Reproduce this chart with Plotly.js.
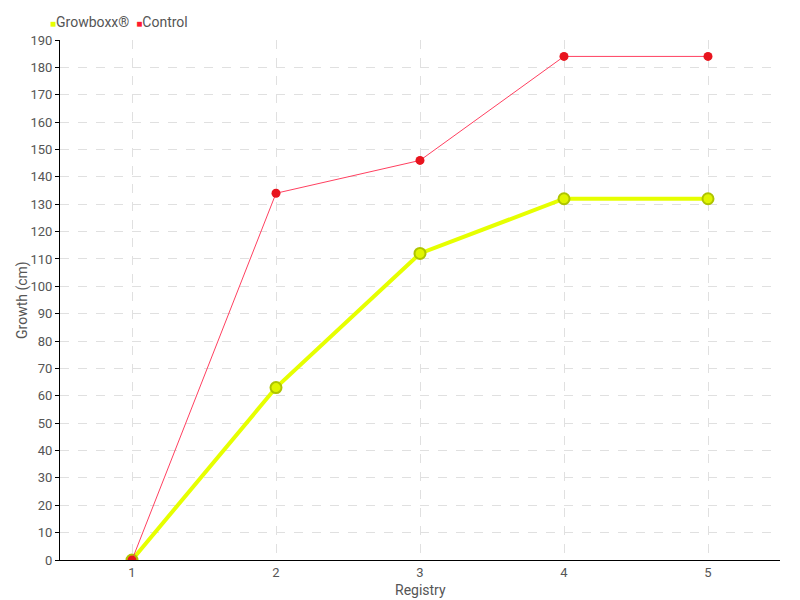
<!DOCTYPE html>
<html>
<head>
<meta charset="utf-8">
<script src="https://cdn.plot.ly/plotly-3.0.1.min.js"></script>
<style>html,body{margin:0;padding:0;background:#fff;}#chart{width:800px;height:600px;}</style>
</head>
<body>
<div id="chart"></div>
<script>
const registry = [1, 2, 3, 4, 5];
const growboxx = [0, 63, 112, 132, 132];
const control = [0, 134, 146, 184, 184];
const seriesNames = ['Growboxx®', 'Control'];
const tickVals = [0,10,20,30,40,50,60,70,80,90,100,110,120,130,140,150,160,170,180,190];

const FONT = 'Roboto, "Liberation Sans Narrow", sans-serif';
const TXT = '#555555';
const COL_G = '#e6ff00';
const COL_C = '#ff1a2e';

const traces = [
  {
    x: registry, y: growboxx, type: 'scatter', mode: 'lines+markers', name: seriesNames[0],
    showlegend: false,
    line: {color: COL_G, width: 4},
    marker: {color: '#e0f500', size: 11, line: {color: '#aec400', width: 2}}
  },
  {
    x: registry, y: control, type: 'scatter', mode: 'lines+markers', name: seriesNames[1],
    showlegend: false,
    line: {color: '#ff4060', width: 1},
    marker: {color: '#e8141e', size: 9}
  }
];

const legendText =
  '<span style="color:' + COL_G + ';font-size:10px">■</span>' + seriesNames[0] +
  '  <span style="color:' + COL_C + ';font-size:10px">■</span>' + seriesNames[1];

const layout = {
  width: 800, height: 600,
  margin: {l: 60, r: 20, t: 40, b: 40, autoexpand: false},
  paper_bgcolor: '#ffffff', plot_bgcolor: '#ffffff',
  font: {family: FONT, size: 14, color: TXT},
  showlegend: false,
  annotations: [
    {
      xref: 'paper', yref: 'paper', x: -0.017, y: 1.0346, xanchor: 'left', yanchor: 'middle',
      showarrow: false, text: legendText, font: {family: FONT, size: 14, color: TXT}
    },
    {
      xref: 'paper', yref: 'paper', x: 0.5, y: -0.057, xanchor: 'center', yanchor: 'middle',
      showarrow: false, text: 'Registry', font: {family: FONT, size: 14, color: TXT}
    },
    {
      xref: 'paper', yref: 'paper', x: -0.0528, y: 0.5, xanchor: 'center', yanchor: 'middle',
      textangle: -90, showarrow: false, text: 'Growth (cm)', font: {family: FONT, size: 14, color: TXT}
    }
  ],
  xaxis: {
    range: [0.5, 5.5], tickvals: registry, ticktext: registry.map(String),
    showline: true, linecolor: '#000', linewidth: 1,
    showgrid: true, gridcolor: '#e0e0e0', griddash: 'dash', gridwidth: 1,
    zeroline: false, ticks: '', ticklen: 0,
    tickfont: {family: FONT, size: 13, color: TXT}
  },
  yaxis: {
    range: [0, 190], tickvals: tickVals, ticktext: tickVals.map(String),
    showline: true, linecolor: '#000', linewidth: 1,
    showgrid: true, gridcolor: '#e0e0e0', griddash: 'dash', gridwidth: 1,
    zeroline: false, ticks: 'outside', ticklen: 4, tickcolor: '#000',
    tickfont: {family: FONT, size: 13, color: TXT}
  }
};

Plotly.newPlot('chart', traces, layout, {displayModeBar: false, staticPlot: true});
</script>
</body>
</html>
